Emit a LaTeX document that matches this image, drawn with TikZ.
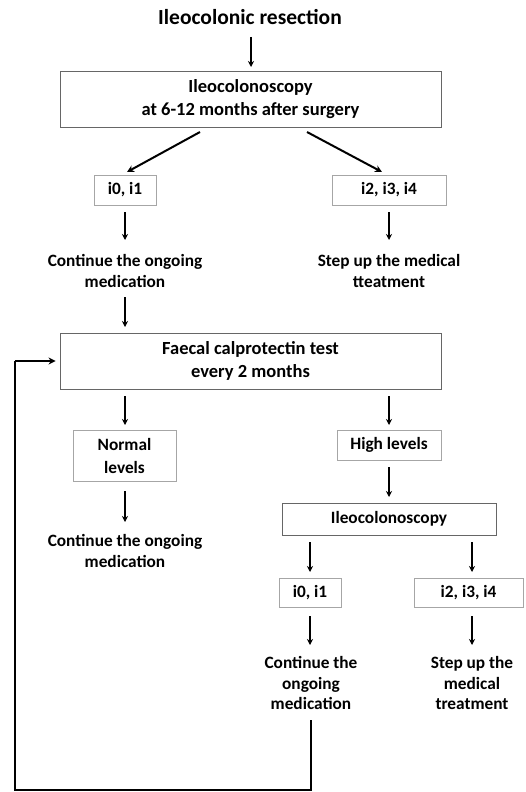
\documentclass[tikz,border=0pt]{standalone}
\usepackage{fontspec}
\setmainfont{Carlito}
\usetikzlibrary{arrows.meta}
\begin{document}
\begin{tikzpicture}[x=1pt,y=-1pt,
  bigbox/.style={draw=black!60,line width=0.9pt,align=center,font=\fontsize{18.5}{23}\selectfont\bfseries,inner sep=0pt},
  smallbox/.style={draw=black!35,line width=0.9pt,align=center,font=\fontsize{17.3}{23}\selectfont\bfseries,inner sep=0pt},
  txt/.style={align=center,font=\fontsize{17.3}{20.5}\selectfont\bfseries,inner sep=0pt},
  arr/.style={-{Stealth[length=6pt,width=6pt]},line width=1.5pt},
  darr/.style={-{Stealth[length=7pt,width=7pt]},line width=2pt},
  loopline/.style={line width=2.5pt}]
\useasboundingbox (0,0) rectangle (525,792);
\node[font=\fontsize{21.5}{24}\selectfont\bfseries] (title) at (250,17) {Ileocolonic resection};
\node[bigbox,minimum width=381pt,minimum height=56pt] (b1) at (250.5,99) {Ileocolonoscopy\\at 6-12 months after surgery};
\node[smallbox,minimum width=62pt,minimum height=30pt] (l1) at (125,190) {i0, i1};
\node[smallbox,minimum width=114pt,minimum height=30pt] (r1) at (389,190) {i2, i3, i4};
\node[txt] (lt1) at (125,271) {Continue the ongoing\\medication};
\node[txt] (rt1) at (389,271) {Step up the medical\\tteatment};
\node[bigbox,minimum width=381pt,minimum height=56pt] (fc) at (250.5,361) {Faecal calprotectin test\\every 2 months};
\node[smallbox,minimum width=103pt,minimum height=51pt] (nl) at (124.5,455.5) {Normal\\levels};
\node[smallbox,minimum width=104pt,minimum height=30pt] (hl) at (389,445) {High levels};
\node[txt] (lt2) at (125,551) {Continue the ongoing\\medication};
\node[bigbox,font=\fontsize{17.3}{23}\selectfont\bfseries,minimum width=214pt,minimum height=32pt] (ic) at (389,519) {Ileocolonoscopy};
\node[smallbox,minimum width=62pt,minimum height=29pt] (l2) at (310,592.5) {i0, i1};
\node[smallbox,minimum width=109pt,minimum height=29pt] (r2) at (468.5,592.5) {i2, i3, i4};
\node[txt] (lt3) at (311,683) {Continue the\\ongoing\\medication};
\node[txt] (rt3) at (472,683) {Step up the\\medical\\treatment};
\coordinate (c1) at (15,361);
\coordinate (c2) at (15,790);
\coordinate (c3) at (311,790);
\coordinate (c4) at (311,720);
% arrows
\draw[arr] (251,37) -- (251,67);
\draw[darr] (200,132) -- (127,172);
\draw[darr] (307,132) -- (382,172);
\draw[arr] (125,212) -- (125,240);
\draw[arr] (389,212) -- (389,240);
\draw[arr] (125,297) -- (125,327);
\draw[arr] (125,396) -- (125,425);
\draw[arr] (389,396) -- (389,425);
\draw[arr] (125,491) -- (125,522);
\draw[arr] (389,467) -- (389,497);
\draw[arr] (310,542) -- (310,572);
\draw[arr] (472,542) -- (472,572);
\draw[arr] (310,616) -- (310,645);
\draw[arr] (472,616) -- (472,645);
\draw[loopline] (c4) -- (c3) -- (c2) -- (c1);
\draw[darr,shorten >=4pt] (c1) -- (fc.west);
\end{tikzpicture}
\end{document}
